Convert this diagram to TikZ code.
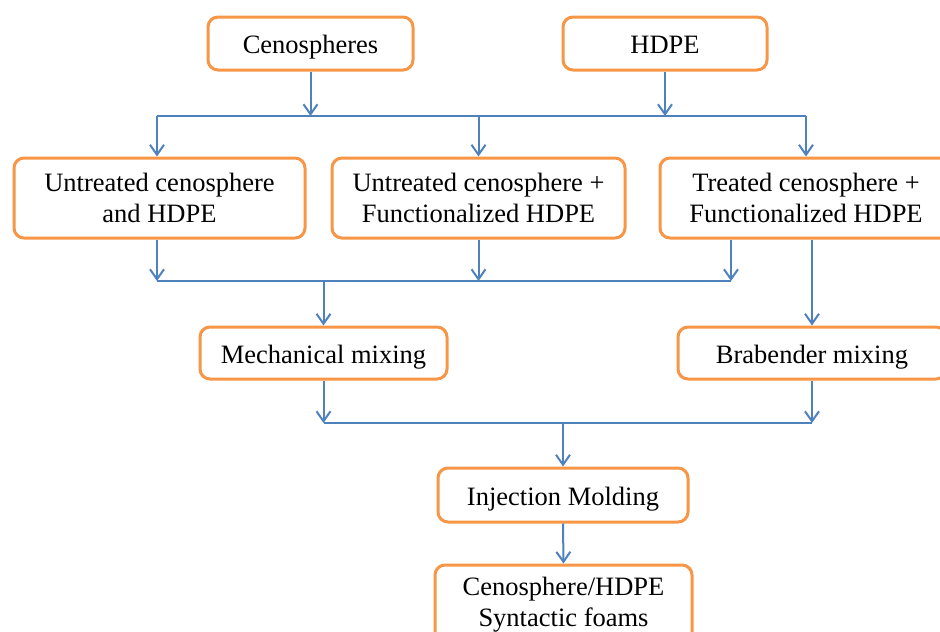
\documentclass[tikz,border=0pt]{standalone}
\usepackage{fontspec}
\setmainfont{Liberation Serif}
\usetikzlibrary{arrows.meta}
\definecolor{boxorange}{HTML}{F79646}
\definecolor{lineblue}{HTML}{4F81BD}
\tikzset{
  box/.style={draw=boxorange, line width=3pt, rounded corners=10pt, fill=white,
    align=center, font=\fontsize{26.5}{31}\selectfont, inner sep=0pt, text=black},
  onebox/.style={box, text height=20.5pt, text depth=0pt},
  conn/.style={draw=lineblue, line width=2pt},
  arr/.style={conn, -{Straight Barb[length=10pt,width=14pt,line width=2pt]}}
}
\begin{document}
\begin{tikzpicture}[x=1pt,y=-1pt]
\useasboundingbox (0,0) rectangle (940,632);
\clip (0,0) rectangle (940,632);
% nodes
\node[onebox, minimum width=205pt, minimum height=53pt] (ceno) at (310.5,43.5) {Cenospheres};
\node[onebox, minimum width=204pt, minimum height=53pt] (hdpe) at (665,43.5) {HDPE};
\node[box, minimum width=291pt, minimum height=80pt] (r1) at (159.5,198) {Untreated cenosphere\\and HDPE};
\node[box, minimum width=293pt, minimum height=80pt] (r2) at (478.5,198) {Untreated cenosphere +\\Functionalized HDPE};
\node[box, minimum width=292pt, minimum height=80pt] (r3) at (806,198) {Treated cenosphere +\\Functionalized HDPE};
\node[onebox, minimum width=247pt, minimum height=52pt] (mech) at (323.5,353) {Mechanical mixing};
\node[onebox, minimum width=268pt, minimum height=52pt] (brab) at (812,353) {Brabender mixing};
\node[onebox, minimum width=250pt, minimum height=54pt] (inj) at (563,495) {Injection Molding};
\node[box, minimum width=257pt, minimum height=80pt] (foam) at (563.5,605) {Cenosphere/HDPE\\Syntactic foams};
% bus coordinates
\coordinate (b1l) at (157,116);
\coordinate (b1r) at (806,116);
\coordinate (b2l) at (157,281);
\coordinate (b2r) at (731,281);
\coordinate (b3l) at (323.5,423);
\coordinate (b3r) at (812,423);
% top bus
\draw[conn] (b1l) -- (b1r);
\draw[arr] (ceno.south) -- (ceno.south |- b1l);
\draw[arr] (hdpe.south) -- (hdpe.south |- b1l);
\draw[arr] (b1l) -- (b1l |- r1.north);
\draw[arr] (r2.north |- b1l) -- (r2.north);
\draw[arr] (b1r) -- (b1r |- r3.north);
% second bus
\draw[conn] (b2l) -- (b2r);
\draw[arr] (b2l |- r1.south) -- (b2l);
\draw[arr] (r2.south) -- (r2.south |- b2l);
\draw[arr] (b2r |- r3.south) -- (b2r);
\draw[arr] (mech.north |- b2l) -- (mech.north);
\draw[arr] (brab.north |- r3.south) -- (brab.north);
% third bus
\draw[conn] (b3l) -- (b3r);
\draw[arr] (mech.south) -- (b3l);
\draw[arr] (brab.south) -- (b3r);
\draw[arr] (inj.north |- b3l) -- (inj.north);
\draw[arr] (inj.south) -- (foam.north);
\end{tikzpicture}
\end{document}
